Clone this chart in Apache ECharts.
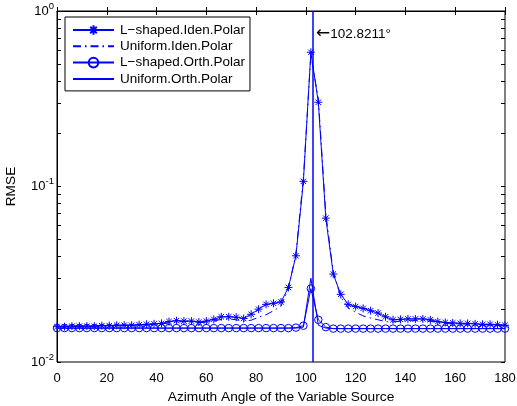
<!DOCTYPE html>
<html>
<head>
<meta charset="utf-8">
<script src="https://cdn.jsdelivr.net/npm/echarts@6/dist/echarts.min.js"></script>
<style>html,body{margin:0;padding:0;background:#fff;}#c{width:517px;height:406px;}</style>
</head>
<body>
<div id="c"></div>
<script>
var angles = [0,3,6,9,12,15,18,21,24,27,30,33,36,39,42,45,48,51,54,57,60,63,66,69,72,75,78,81,84,87,90,93,96,99,102,105,108,111,114,117,120,123,126,129,132,135,138,141,144,147,150,153,156,159,162,165,168,171,174,177,180];

var lShapedIden = [0.0159,0.0159,0.0160,0.0160,0.0160,0.0160,0.0161,0.0161,0.0162,0.0162,0.0162,0.0163,0.0164,0.0165,0.0166,0.0170,0.0172,0.0171,0.0171,0.0169,
  0.0171,0.0175,0.0181,0.0181,0.0180,0.0177,0.0187,0.0200,0.0213,0.0216,0.0220,0.0266,0.0403,0.107,0.582,0.302,0.066,0.0317,0.0243,0.0213,
  0.0207,0.0202,0.0196,0.0190,0.0181,0.0174,0.0175,0.0176,0.0176,0.0176,0.0174,0.0170,0.0168,0.0167,0.0166,0.0166,0.0165,0.0164,0.0164,0.0163,0.0162];

var uniformIden = [0.0159,0.0159,0.0159,0.0160,0.0160,0.0160,0.0161,0.0161,0.0161,0.0162,0.0162,0.0162,0.0163,0.0164,0.0165,0.0167,0.0169,0.0170,0.0170,0.0168,
  0.0168,0.0171,0.0175,0.0176,0.0174,0.0171,0.0173,0.0180,0.0186,0.0196,0.0208,0.0262,0.0415,0.112,0.565,0.315,0.070,0.0325,0.0235,0.0203,
  0.0192,0.0183,0.0178,0.0174,0.0170,0.0169,0.0171,0.0172,0.0172,0.0172,0.0171,0.0168,0.0166,0.0165,0.0165,0.0164,0.0164,0.0163,0.0163,0.0162,0.0162];

var lShapedOrth = [0.0156,0.0156,0.0156,0.0156,0.0156,0.0156,0.0156,0.0156,0.0156,0.0156,0.0156,0.0156,0.0156,0.0156,0.0156,0.0156,0.0156,0.0156,0.0156,0.0156,
  0.0156,0.0156,0.0156,0.0156,0.0156,0.0156,0.0156,0.0156,0.0156,0.0156,0.0156,0.0156,0.0157,0.0161,0.0262,0.0174,0.0158,0.0155,0.0155,0.0155,
  0.0155,0.0155,0.0155,0.0155,0.0155,0.0155,0.0155,0.0155,0.0155,0.0155,0.0155,0.0155,0.0155,0.0155,0.0155,0.0155,0.0155,0.0155,0.0155,0.0155,0.0155];

var uniformOrth = [0.0156,0.0156,0.0156,0.0156,0.0156,0.0156,0.0156,0.0156,0.0156,0.0156,0.0156,0.0156,0.0156,0.0156,0.0156,0.0156,0.0156,0.0156,0.0156,0.0156,
  0.0156,0.0156,0.0156,0.0156,0.0156,0.0156,0.0156,0.0156,0.0156,0.0156,0.0156,0.0156,0.0156,0.0158,0.0300,0.0162,0.0156,0.0155,0.0155,0.0155,
  0.0155,0.0155,0.0155,0.0155,0.0155,0.0155,0.0155,0.0155,0.0155,0.0155,0.0155,0.0155,0.0155,0.0155,0.0155,0.0155,0.0155,0.0155,0.0155,0.0155,0.0155];

var seriesNames = ['L\u2212shaped.Iden.Polar','Uniform.Iden.Polar','L\u2212shaped.Orth.Polar','Uniform.Orth.Polar'];
var peakAngle = 102.8211;
var annotationY = 0.74;
var yDecades = [0.01,0.1,1];
var yMinorValues = [0.02,0.03,0.04,0.05,0.06,0.07,0.08,0.09,0.2,0.3,0.4,0.5,0.6,0.7,0.8,0.9];

function pairs(ys){ return angles.map(function(a,i){ return [a, ys[i]]; }); }
var minorExp = yMinorValues.map(function(v){ return Math.log10(v); });
var allExp = minorExp.concat(yDecades.map(function(v){ return Math.log10(v); }));

var BLUE = '#0000ff';
var FONT = 'Liberation Sans, Arial, Helvetica, sans-serif';
var asterisk = 'path://M5 0 L5 10 M0 5 L10 5 M1.6 1.6 L8.4 8.4 M1.6 8.4 L8.4 1.6';
var NOFILL = 'rgba(0,0,0,0)';

var chart = echarts.init(document.getElementById('c'), null, {renderer:'canvas'});
var option = {
  animation: false,
  backgroundColor: '#fff',
  textStyle: {fontFamily: FONT, color: '#000'},
  grid: {left: 57, right: 12, top: 11, bottom: 44, show: true, borderColor: '#000', borderWidth: 1,
         backgroundColor: 'transparent', containLabel: false, outerBoundsMode: 'none'},
  legend: {
    left: 65, top: 17, orient: 'vertical',
    itemWidth: 41, itemHeight: 12, itemGap: 2.3,
    padding: [6, 5, 5, 7],
    borderColor: '#000', borderWidth: 1, backgroundColor: '#fff',
    textStyle: {fontFamily: FONT, fontSize: 13.5, lineHeight: 14, color: '#000', padding: [0,0,0,1]},
    data: seriesNames
  },
  xAxis: [{
    type: 'value', min: 0, max: 180, interval: 20, position: 'bottom',
    axisLine: {show: true, lineStyle: {color: '#000', width: 1}},
    axisTick: {show: true, inside: true, length: 4, lineStyle: {color: '#000'}},
    axisLabel: {fontFamily: FONT, fontSize: 13, color: '#000', margin: 10},
    splitLine: {show: false},
    name: 'Azimuth Angle of the Variable Source', nameLocation: 'middle', nameGap: 23,
    nameTextStyle: {fontFamily: FONT, fontSize: 13.7, color: '#000'}
  }, {
    type: 'value', min: 0, max: 180, interval: 20, position: 'top',
    axisLine: {show: false},
    axisTick: {show: true, inside: true, length: 4, lineStyle: {color: '#000'}},
    axisLabel: {show: false}, splitLine: {show: false}
  }],
  yAxis: [{
    type: 'log', logBase: 10, min: 0.01, max: 1, position: 'left',
    axisLine: {show: true, lineStyle: {color: '#000', width: 1}},
    axisTick: {show: true, inside: true, length: 4, lineStyle: {color: '#000'}},
    minorTick: {show: false},
    splitLine: {show: false},
    axisLabel: {
      margin: 3, color: '#000',
      formatter: function(v){ var e = Math.round(Math.log10(v)); return '{b|10}{s|' + (e < 0 ? '-' + (-e) : e) + '}'; },
      rich: {
        b: {fontFamily: FONT, fontSize: 13, lineHeight: 20, color: '#000'},
        s: {fontFamily: FONT, fontSize: 9.5, lineHeight: 6, verticalAlign: 'top', color: '#000'}
      }
    },
    name: 'RMSE', nameLocation: 'middle', nameGap: 39,
    nameTextStyle: {fontFamily: FONT, fontSize: 13.7, color: '#000'}
  }, {
    type: 'value', min: -2, max: 0, position: 'left',
    axisLine: {show: false},
    axisTick: {show: true, inside: true, length: 4, lineStyle: {color: '#000'}, customValues: minorExp},
    axisLabel: {show: false}, splitLine: {show: false}
  }, {
    type: 'value', min: -2, max: 0, position: 'right',
    axisLine: {show: false},
    axisTick: {show: true, inside: true, length: 4, lineStyle: {color: '#000'}, customValues: allExp},
    axisLabel: {show: false}, splitLine: {show: false}
  }],
  series: [{
    name: seriesNames[0], type: 'line', xAxisIndex: 0, yAxisIndex: 0,
    data: pairs(lShapedIden), color: BLUE,
    symbol: asterisk, symbolSize: 8, showAllSymbol: true,
    itemStyle: {color: NOFILL, borderColor: BLUE, borderWidth: 1},
    lineStyle: {color: BLUE, width: 1}
  }, {
    name: seriesNames[1], type: 'line', xAxisIndex: 0, yAxisIndex: 0,
    data: pairs(uniformIden), color: BLUE,
    symbol: 'none',
    itemStyle: {color: NOFILL, borderColor: NOFILL, borderWidth: 0},
    lineStyle: {color: BLUE, width: 1, type: [8, 4, 1.5, 4]}
  }, {
    name: seriesNames[2], type: 'line', xAxisIndex: 0, yAxisIndex: 0,
    data: pairs(lShapedOrth), color: BLUE,
    symbol: 'circle', symbolSize: 7.5, showAllSymbol: true,
    itemStyle: {color: NOFILL, borderColor: BLUE, borderWidth: 1},
    lineStyle: {color: BLUE, width: 1}
  }, {
    name: seriesNames[3], type: 'line', xAxisIndex: 0, yAxisIndex: 0,
    data: pairs(uniformOrth), color: BLUE,
    symbol: 'none',
    itemStyle: {color: NOFILL, borderColor: NOFILL, borderWidth: 0},
    lineStyle: {color: BLUE, width: 1},
    markLine: {
      silent: true, symbol: ['none','none'],
      lineStyle: {color: BLUE, width: 1.5, type: 'solid'},
      label: {show: false},
      data: [{xAxis: peakAngle}]
    },
    markPoint: {
      silent: true, symbol: 'circle', symbolSize: 0,
      label: {
        show: true, position: 'right', distance: 3,
        formatter: '{a|\u2190}{t|' + peakAngle + '\u00b0}',
        rich: {
          a: {fontFamily: 'DejaVu Sans', fontSize: 17, color: '#000'},
          t: {fontFamily: FONT, fontSize: 13.5, color: '#000'}
        }
      },
      data: [{coord: [peakAngle, annotationY]}]
    }
  }]
};
chart.setOption(option);
</script>
</body>
</html>
